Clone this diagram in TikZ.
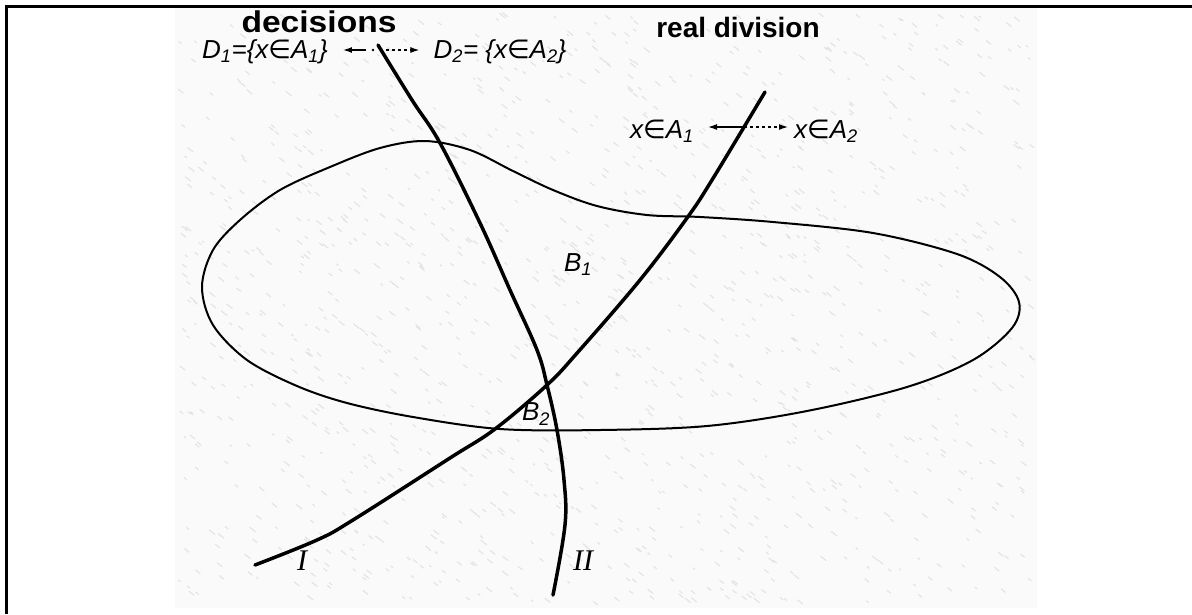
\documentclass[tikz,border=0pt]{standalone}
\usepackage{fontspec}
\setmainfont{Liberation Sans}
\newfontfamily\serifit{Liberation Serif}
\newfontfamily\symf{DejaVu Sans}
\usetikzlibrary{arrows.meta,calc}
\newcommand\elm{{\symf\itshape ∈}}
\newcommand\sbs[1]{\textsubscript{#1}}
\begin{document}
\begin{tikzpicture}[x=1pt,y=-1pt,
  frame/.style={line width=3pt},
  bound/.style={line width=3.5pt,line cap=round},
  region/.style={line width=2pt},
  mlab/.style={font=\fontsize{26}{30}\selectfont\itshape, inner sep=0pt},
  head/.style={font=\fontsize{28}{32}\selectfont\bfseries, inner sep=0pt},
  rom/.style={font=\fontsize{30}{34}\selectfont\serifit\itshape, inner sep=0pt},
  arr/.style={line width=1.3pt, -{Latex[length=9pt,width=6pt]}},
]
\useasboundingbox (0,0) rectangle (1192,614);
\fill[white] (0,0) rectangle (1192,614);
\fill[gray!4] (175,8) rectangle (1037,608);
\pgfmathsetseed{7}
\foreach \i in {1,...,1400}{
  \pgfmathsetmacro\tx{178+852*rnd}
  \pgfmathsetmacro\ty{12+590*rnd}
  \pgfmathsetmacro\tl{2+4*rnd}
  \draw[gray!22,line width=1.1pt] (\tx,\ty) -- ++(\tl,\tl*0.8);
}
\draw[frame] (6.5,614) -- (6.5,6.5) -- (1192,6.5);

% region
\draw[region] plot[smooth cycle, tension=0.55] coordinates {
 (202,287) (213,250) (240,220) (280,190) (330,167) (380,148) (425,141)
 (470,150) (513,171) (553,190) (597,206) (647,215) (700,217) (773,222)
 (873,233) (957,254) (1000,277) (1019,302) (1012,328) (973,360) (907,387)
 (807,411) (707,426) (600,430) (500,429) (413,417) (347,403) (297,386)
 (247,360) (213,325)};

% boundary II (decisions)
\draw[bound] plot[smooth, tension=0.6] coordinates {
 (378,45) (412,100) (440,143) (480,223) (510,290) (537,350) (547,385)
 (557,430) (564,480) (565,525) (553,595)};
% boundary I (real division)
\draw[bound] plot[smooth, tension=0.6] coordinates {
 (255,565) (317,540) (353,520) (450,458) (495,429) (547,385) (578,352)
 (640,280) (687,218) (712,180) (765,92)};

% labels
\node[head, font=\fontsize{30}{34}\selectfont\bfseries] (dec) at (319,22) {\scalebox{1.12}[1]{decisions}};
\node[head] (real) at (738,27) {real division};
\node[mlab] (d1) at (265,52) {D\sbs{1}=\{x\elm A\sbs{1}\}};
\node[mlab] (d2) at (500,52) {D\sbs{2}= \{x\elm A\sbs{2}\}};
\node[mlab] (xa1) at (662,131) {x\elm A\sbs{1}};
\node[mlab] (xa2) at (826,131) {x\elm A\sbs{2}};
\node[mlab] (b1) at (578,265) {B\sbs{1}};
\node[mlab] (b2) at (536,414) {B\sbs{2}};
\node[rom] (r1) at (302,561) {I};
\node[rom] (r2) at (583,561) {II};

% arrows
\coordinate (cII) at (383,50);
\coordinate (cI) at (744,127);
\draw[arr, shorten >=15pt] ($(cII)+(-17,0)$) -- (d1.east|-cII);
\fill ($(cII)+(-10,0)$) circle (1.3pt);
\draw[arr, dashed, shorten >=14pt] ($(cII)+(3,0)$) -- (d2.west|-cII);
\draw[arr, shorten >=14pt] (cI) -- (xa1.east|-cI);
\draw[arr, dashed, shorten >=6pt] (cI) -- (xa2.west|-cI);
\end{tikzpicture}
\end{document}
